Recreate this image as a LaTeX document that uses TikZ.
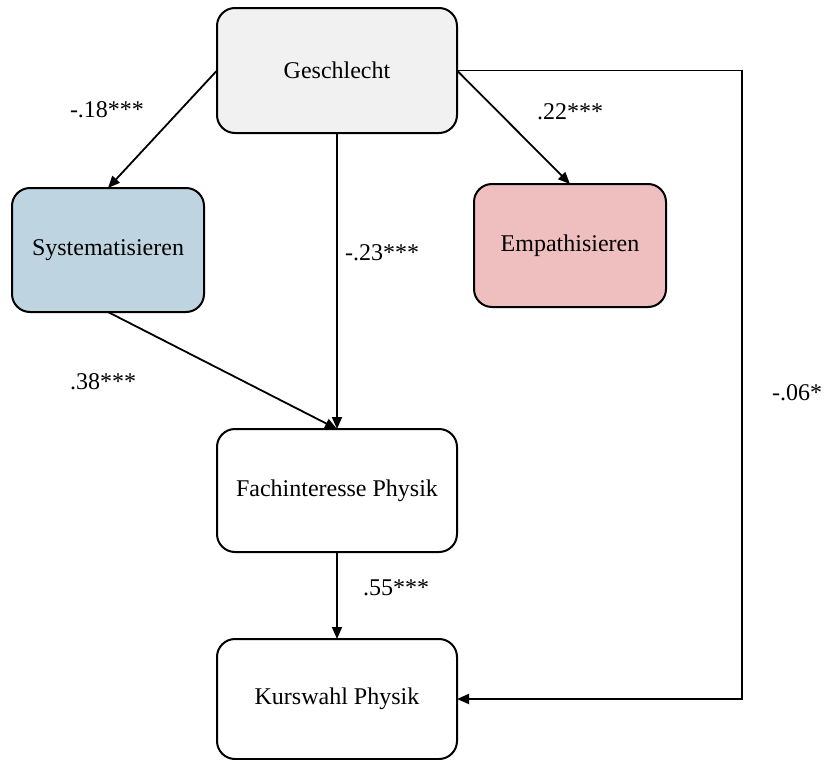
\documentclass[tikz,border=0pt]{standalone}
\usepackage{fontspec}
\setmainfont{Liberation Serif}
\usetikzlibrary{arrows.meta}
\definecolor{gfill}{RGB}{241,241,241}
\definecolor{bfill}{RGB}{190,213,225}
\definecolor{pfill}{RGB}{239,191,192}
\tikzset{
  box/.style={draw=black, line width=1pt, rounded corners=9pt, inner sep=0pt, outer sep=0pt,
    font=\fontsize{12}{14}\selectfont},
  lab/.style={inner sep=0pt, font=\fontsize{12}{14}\selectfont},
  conn/.style={line width=0.9pt, -{Triangle[length=6pt,width=5pt]}},
  plainline/.style={line width=0.9pt}
}
\begin{document}
\begin{tikzpicture}[x=0.5pt, y=-0.5pt]
\useasboundingbox (0,0) rectangle (825,760);
\node[box, fill=gfill, minimum width=120pt, minimum height=62.5pt] (G) at (337,70.5) {Geschlecht};
\node[box, fill=bfill, minimum width=96pt, minimum height=62pt] (S) at (108,250) {Systematisieren};
\node[box, fill=pfill, minimum width=96pt, minimum height=61.5pt] (E) at (570,245.5) {Empathisieren};
\node[box, fill=white, minimum width=120pt, minimum height=61.5pt] (F) at (337,490.5) {Fachinteresse Physik};
\node[box, fill=white, minimum width=120pt, minimum height=60pt] (K) at (337,699) {Kurswahl Physik};

\coordinate (c1) at (742,70.5);
\coordinate (c2) at (742,699);

\draw[conn] (G.west) -- (S.north);
\draw[conn] (G.south) -- (F.north);
\draw[conn] (G.east) -- (E.north);
\draw[conn] (S.south) -- (F.north);
\draw[conn] (F.south) -- (K.north);
\draw[conn] (G.east) -- (c1) -- (c2) -- (K.east);

\node[lab] (l18) at (107,110) {-.18***};
\node[lab] (l22) at (570,112) {.22***};
\node[lab] (l23) at (382,253) {-.23***};
\node[lab] (l38) at (103,382) {.38***};
\node[lab] (l55) at (396,588) {.55***};
\node[lab] (l06) at (797,393) {-.06*};
\end{tikzpicture}
\end{document}
